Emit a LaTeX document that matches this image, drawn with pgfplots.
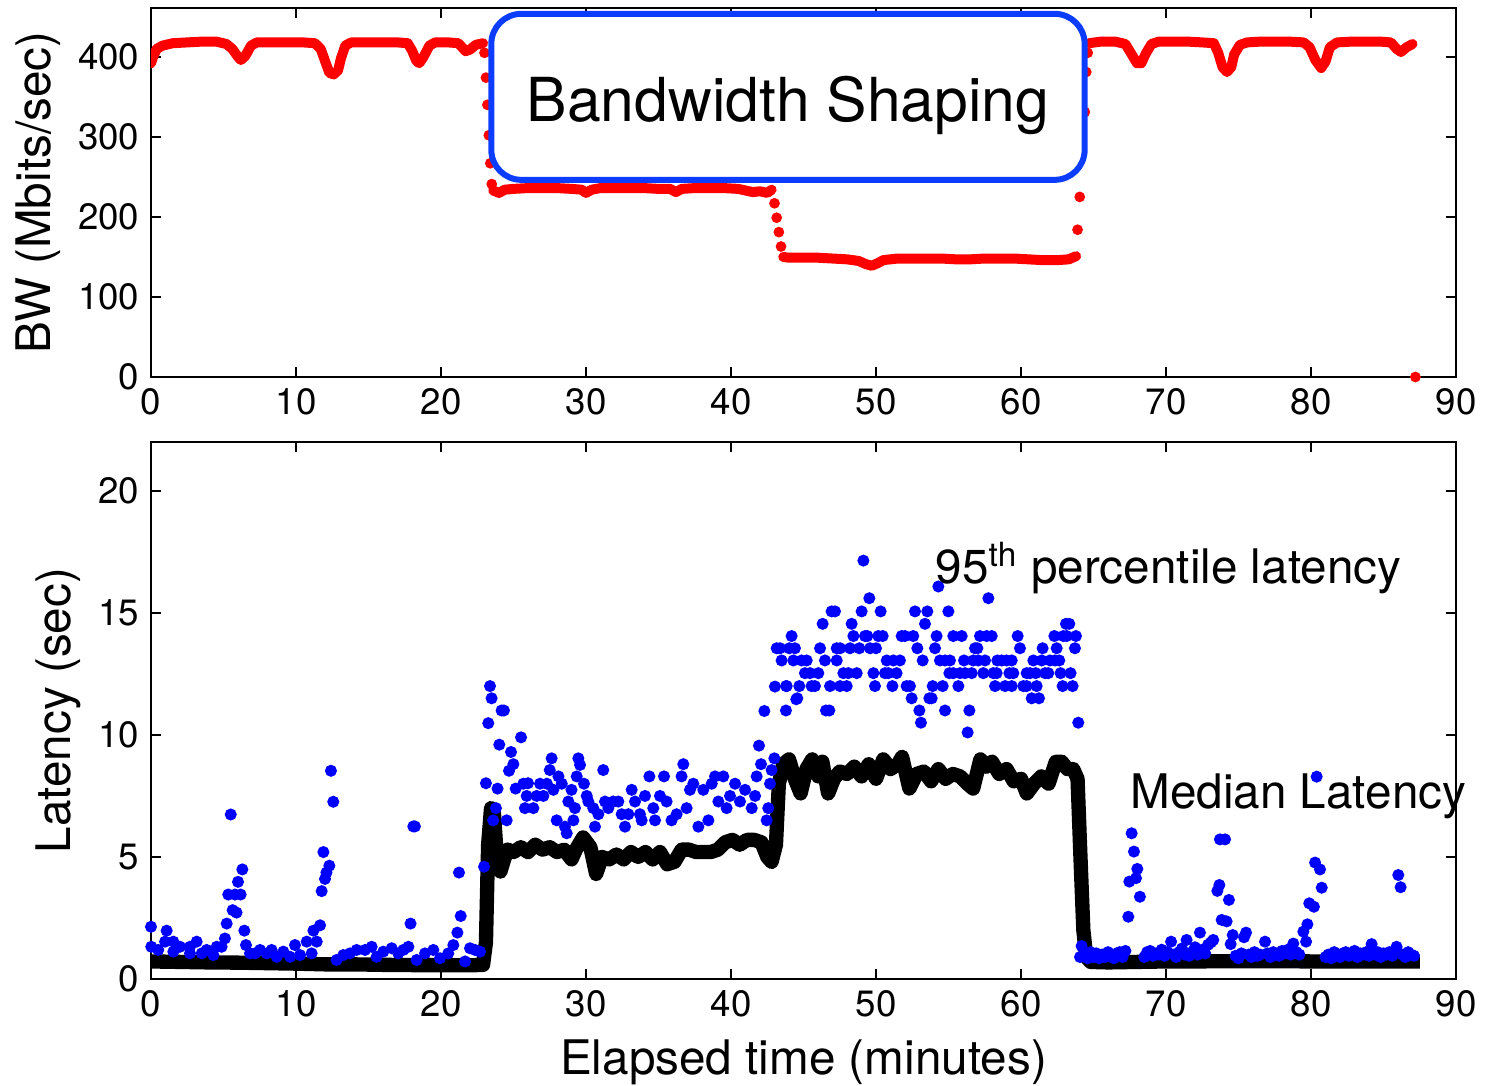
\documentclass[border=0pt]{standalone}
\usepackage{fontspec}
\setmainfont{TeX Gyre Heros}
\usepackage{pgfplots}
\pgfplotsset{compat=1.18}
\definecolor{boxblue}{RGB}{12,61,255}

\pgfplotsset{
  panel/.style={
    scale only axis, width=391.5pt,
    xmin=0, xmax=90, xtick={0,10,...,90},
    tick align=inside, major tick length=3pt,
    axis line style={line width=0.8pt},
    every tick/.style={line width=0.5pt, black},
    ticklabel style={font=\fontsize{11}{13}\selectfont},
    label style={font=\fontsize{14.3}{16}\selectfont},
    ylabel style={yshift=-1.6pt},
    /pgf/number format/assume math mode=true,
    clip mode=individual,
  },
}

\begin{document}
\begin{tikzpicture}
\useasboundingbox (-45.3pt,-212.7pt) rectangle (401.1pt,113.1pt);

% bandwidth
\begin{axis}[panel, at={(0,0)}, anchor=south west, height=110.7pt,
    ymin=0, ymax=461, ytick={0,100,...,400},
    ylabel={BW (Mbits/sec)}]
\addplot[red, line width=3pt, line join=round, line cap=round] coordinates {
(0,392)(0.15,400)(0.4,410)(0.8,414)(1.5,417)(2.5,418)(3.5,419)(4.5,419)(5.2,416)(5.6,410)
(6.0,400)(6.2,396)(6.5,401)(6.9,414)(7.3,418)(8.5,418)(9.5,418)(10.5,418)(11.3,417)(11.7,410)
(12.0,395)(12.3,380)(12.6,378)(12.9,383)(13.1,398)(13.4,414)(13.8,418)(15,418)(16,418)(17,418)
(17.7,417)(18.0,408)(18.3,395)(18.5,392)(18.8,400)(19.2,414)(19.6,418)(20.5,418)(21.2,417)
(21.7,407)(22.0,409)(22.4,415)(22.9,417)};
\addplot[red, line width=3pt, line join=round, line cap=round] coordinates {
(23.6,233)(24.0,230)(24.4,234)(25,235)(26,236)(27,236)(28,236)(29,235)(29.7,234)(30.0,230)
(30.4,234)(31,236)(32,236)(33,236)(34,236)(35,235)(35.8,235)(36.2,231)(36.6,235)(37.5,236)
(38.5,236)(39.5,236)(40.5,235)(41.0,233)(41.5,231)(42.0,232)(42.5,230)(42.8,234)};
\addplot[red, line width=3pt, line join=round, line cap=round] coordinates {
(43.6,150)(44,149)(45,149)(46,149)(47,148)(48,147)(48.8,145)(49.3,141)(49.7,139)(50.1,142)
(50.5,146)(51.5,148)(52.5,148)(53.5,148)(54.5,148)(55.5,147)(56.5,147)(57.5,148)(58.5,148)
(59.5,148)(60.5,147)(61.5,146)(62.5,146)(63.3,147)(63.8,151)};
\addplot[red, line width=3pt, line join=round, line cap=round] coordinates {
(64.7,417)(65.5,419)(66.5,419)(67.2,416)(67.6,404)(68.0,392)(68.3,392)(68.6,404)(69.0,416)
(69.5,419)(70.5,419)(71.5,419)(72.5,418)(73.3,417)(73.6,405)(73.9,387)(74.2,381)(74.5,387)
(74.7,403)(75.1,415)(75.6,418)(76.5,419)(77.5,419)(78.5,419)(79.5,418)(79.9,412)(80.3,396)
(80.7,386)(81.0,394)(81.3,412)(81.8,418)(82.8,419)(83.8,419)(84.8,419)(85.5,418)(85.9,410)
(86.2,406)(86.6,412)(87.0,416)};
\addplot[only marks, mark=*, mark size=1.4pt, red, mark options={draw=red, fill=red}] coordinates {
(23.0,405)(23.1,374)(23.2,340)(23.3,302)(23.4,267)(23.5,241)
(43.0,217)(43.15,199)(43.3,181)(43.45,163)
(63.9,184)(64.05,225)(64.4,331)(64.5,381)(64.6,405)
(87.2,0)};
\node[draw=boxblue, line width=1.8pt, rounded corners=9pt, fill=white,
      minimum width=178pt, minimum height=49.8pt, inner sep=0pt] at (axis cs:43.93,350) {};
\node[anchor=base, inner sep=0pt, font=\fontsize{18.2}{20}\selectfont]
  at (axis cs:43.93,319) {Bandwidth Shaping};
\end{axis}

% latency
\begin{axis}[panel, at={(0,-180.6pt)}, anchor=south west, height=161.1pt,
    ymin=0, ymax=22, ytick={0,5,...,20},
    xlabel={Elapsed time (minutes)}, ylabel={Latency (sec)}]
\addplot[black, line width=4.3pt, line join=round] coordinates {
(0,0.72)(2,0.7)(4,0.68)(6,0.67)(8,0.65)(10,0.63)(12,0.6)(14,0.6)(16,0.58)(18,0.57)(20,0.57)
(22,0.56)(22.9,0.58)(23.1,1.5)(23.25,5.5)(23.45,7.0)(23.65,6.8)(23.85,5.0)(24.1,4.4)(24.35,4.9)
(24.6,5.3)(25.0,5.2)(25.5,5.4)(26.0,5.2)(26.5,5.5)(27.0,5.3)(27.5,5.4)(28.0,5.2)(28.5,5.3)
(29.0,4.9)(29.3,5.3)(29.8,5.8)(30.3,5.4)(30.7,4.3)(31.1,5.0)(31.6,4.9)(32.1,5.1)(32.6,4.9)
(33.1,5.2)(33.6,5.0)(34.1,5.2)(34.6,4.9)(35.1,5.2)(35.6,4.7)(36.1,4.8)(36.6,5.3)(37.1,5.3)
(37.6,5.2)(38.1,5.2)(38.6,5.2)(39.1,5.3)(39.6,5.6)(40.1,5.7)(40.6,5.5)(41.1,5.7)(41.6,5.7)
(42.1,5.6)(42.5,5.0)(42.8,4.8)(43.1,5.5)(43.3,8.0)(43.6,8.8)(44.0,9.0)(44.4,8.2)(44.8,7.6)
(45.2,8.6)(45.6,9.0)(46.0,8.3)(46.3,8.9)(46.7,7.6)(47.1,8.2)(47.5,8.5)(48.0,8.4)(48.5,8.7)
(49.0,8.3)(49.5,8.8)(50.0,8.2)(50.5,9.0)(51.0,8.6)(51.5,8.8)(51.8,9.1)(52.3,7.8)(52.8,8.4)
(53.3,8.5)(53.8,8.1)(54.3,8.6)(54.8,8.2)(55.3,8.4)(55.8,8.3)(56.3,8.0)(56.7,7.8)(57.2,9.0)
(57.6,8.7)(58.0,8.9)(58.5,8.4)(59.0,8.6)(59.5,8.1)(60.0,8.2)(60.4,7.6)(60.9,8.0)(61.4,8.3)
(61.9,8.0)(62.4,8.9)(62.8,8.9)(63.2,8.6)(63.6,8.6)(63.9,8.2)(64.1,5.0)(64.3,2.0)(64.5,0.9)
(64.8,0.7)(66,0.68)(68,0.7)(70,0.72)(72,0.72)(74,0.73)(76,0.73)(78,0.73)(80,0.72)(82,0.72)
(84,0.72)(86,0.72)(87.5,0.72)};
\addplot[only marks, mark=*, mark size=1.6pt, mark options={draw=blue, fill=blue}] coordinates {
(0,2.14)(0.02,1.32)(0.5,1.19)(0.97,1.53)(1.08,1.98)(1.54,1.53)(1.54,1.12)(2.0,1.32)(2.69,1.05)
(2.69,1.32)(3.15,1.53)(3.5,1.05)(3.84,1.19)(4.3,0.98)(4.53,1.32)(4.87,1.32)(5.1,1.66)(5.22,2.27)
(5.33,3.46)(5.5,6.74)(5.63,2.82)(5.9,2.72)(5.79,3.46)(6.0,3.98)(6.18,3.46)(6.3,4.49)(6.44,1.98)
(6.55,1.39)(6.83,1.05)(7.17,1.05)(7.52,1.19)(7.98,1.05)(8.32,1.19)(8.67,0.91)(9.13,1.12)
(9.59,0.91)(9.93,1.39)(10.28,0.98)(10.74,1.53)(11.08,1.05)(11.2,1.98)(11.43,1.53)(11.66,2.2)
(11.77,3.6)(11.89,5.2)(12.0,4.1)(12.1,4.36)(12.3,4.64)(12.41,8.53)(12.57,7.26)(12.8,0.78)
(13.26,0.98)(13.72,1.05)(14.18,1.19)(14.76,1.19)(15.22,1.32)(15.56,0.91)(16.02,1.12)(16.6,1.26)
(17.05,1.05)(17.4,1.19)(17.75,1.32)(17.9,2.27)(18.09,6.25)(18.2,6.25)(18.32,0.78)(18.9,1.05)
(19.47,1.19)(19.93,0.85)(20.5,1.05)(20.85,1.39)(21.13,1.9)(21.24,4.36)(21.36,2.58)(21.66,0.72)
(22.0,1.26)(22.35,1.19)(22.69,1.12)(22.97,4.6)(23.1,8.02)(23.26,10.48)(23.38,12.0)(23.49,11.5)
(23.6,6.5)(23.79,7.0)(23.9,7.8)(24.02,9.6)(24.18,11.0)(24.34,11.0)(24.53,6.5)(24.69,8.53)
(24.83,9.3)(24.99,8.8)(25.15,7.8)(25.52,9.9)(25.68,8.0)(25.79,7.0)(25.91,7.5)
(26.0,8.02)(26.37,7.0)(26.6,7.5)(26.83,8.0)(27.06,7.5)(27.3,8.0)(27.5,8.56)(27.63,9.04)
(27.75,7.75)(27.98,6.5)(28.1,8.3)(28.33,8.0)(28.55,6.24)(28.67,5.97)(28.78,7.27)(29.0,7.75)
(29.13,6.5)(29.24,7.0)(29.36,8.3)(29.47,9.04)(29.59,8.77)(29.86,8.0)(30.05,7.5)(30.16,7.27)
(30.5,7.0)(30.62,6.24)(30.85,6.75)(31.19,8.56)(31.31,7.27)(31.54,7.0)(31.88,7.27)(32.23,7.27)
(32.46,6.75)(32.69,6.24)(32.92,6.75)(33.15,7.75)(33.38,7.27)(33.72,6.75)(33.84,6.5)(34.07,7.5)
(34.37,8.3)(34.64,7.0)(34.76,6.5)(35.1,7.5)(35.38,8.3)(35.56,7.27)(35.9,6.5)(36.25,6.75)
(36.59,8.3)(36.71,8.8)(36.94,7.0)(37.17,7.75)(37.4,8.0)(37.75,6.24)(38.09,7.75)(38.44,6.5)
(38.67,8.0)(38.9,8.3)(39.13,7.27)(39.47,8.3)(39.7,7.0)(39.93,7.5)(40.28,8.0)(40.62,7.27)
(40.97,7.75)(41.43,7.0)(41.66,7.5)(41.77,8.3)(41.93,9.56)(42.07,8.8)(42.3,10.98)(42.46,6.5)
(42.57,7.0)(42.69,8.0)(42.8,8.56)(42.99,9.04)(43.03,11.98)(43.8,12.0)(44.5,11.46)
(49.13,17.14)(54.3,16.08)(49.54,15.6)(57.75,15.6)
(46.94,15.06)(47.17,15.06)(49.01,15.06)(50.32,15.06)(52.69,15.06)(53.54,15.06)(54.99,15.06)
(46.32,14.55)(48.32,14.55)(53.38,14.55)(63.1,14.55)(63.33,14.55)
(44.18,14.05)(48.44,14.05)(49.24,14.05)(49.4,14.05)(50.16,14.05)(50.46,14.05)(51.77,14.05)
(52.0,14.05)(52.57,14.05)(54.18,14.05)(55.33,14.05)(55.91,14.05)(57.17,14.05)(57.63,14.05)
(57.98,14.05)(59.77,14.05)(62.3,14.05)(62.92,14.05)(63.15,14.05)(63.79,14.05)
(43.15,13.55)(43.38,13.55)(44.02,13.55)(44.41,13.55)(46.14,13.55)(47.29,13.55)(47.52,13.55)
(48.21,13.55)(48.85,13.55)(49.59,13.55)(50.0,13.55)(52.85,13.55)(54.07,13.55)(56.83,13.55)
(56.99,13.55)(59.93,13.55)(61.49,13.55)(62.46,13.55)(63.72,13.55)
(43.49,13.05)(44.3,13.05)(44.87,13.05)(45.22,13.05)(46.48,13.05)(47.29,13.05)(50.74,13.05)
(51.2,13.05)(51.65,13.05)(53.22,13.05)(54.41,13.05)(54.76,13.05)(55.1,13.05)(56.07,13.05)
(56.71,13.05)(57.06,13.05)(57.52,13.05)(58.37,13.05)(58.67,13.05)(59.01,13.05)(59.36,13.05)
(60.85,13.05)(61.43,13.05)(62.0,13.05)(62.34,13.05)(62.64,13.05)
(45.1,12.53)(45.45,12.53)(46.02,12.53)(47.75,12.53)(48.09,12.53)(48.67,12.53)(49.82,12.53)
(50.62,12.53)(50.85,12.53)(51.42,12.53)(55.06,12.53)(55.33,12.53)(55.79,12.53)(56.14,12.53)
(56.6,12.53)(57.4,12.53)(58.09,12.53)(58.32,12.53)(59.2,12.53)(59.47,12.53)(60.39,12.53)
(60.62,12.53)(61.01,12.53)(61.66,12.53)(61.88,12.53)(62.73,12.53)(63.42,12.53)
(43.84,12.0)(44.71,12.0)(45.56,12.0)(45.79,12.0)(46.83,12.0)(47.52,12.0)(47.98,12.0)
(49.93,12.0)(51.13,12.0)(52.11,12.0)(52.34,12.0)(53.91,12.0)(54.6,12.0)(55.68,12.0)(58.21,12.0)
(58.9,12.0)(59.36,12.0)(60.16,12.0)(60.39,12.0)(61.08,12.0)(62.87,12.0)(63.56,12.0)
(44.57,11.5)(52.46,11.5)(53.68,11.5)(53.84,11.5)(60.74,11.5)(61.24,11.5)
(43.79,11.0)(46.55,11.0)(46.78,11.0)(52.99,11.0)(54.76,11.0)(56.44,11.0)
(53.1,10.5)(63.95,10.5)(56.32,10.1)
(64.07,0.9)(64.18,1.35)(64.4,1.0)(64.6,0.85)(64.8,1.1)(65.0,0.9)(65.2,1.05)(65.4,0.85)(65.6,1.0)
(65.8,0.9)(66.0,1.1)(66.2,0.95)(66.4,0.85)(66.6,1.05)(66.8,1.1)(67.0,0.9)(67.2,1.15)(67.4,2.55)
(67.47,3.99)(67.63,5.97)(67.79,5.22)(67.93,4.13)(68.02,4.51)(68.2,3.37)(68.5,0.9)(68.7,1.1)
(68.9,1.15)(69.1,0.95)(69.3,1.05)(69.5,1.0)(69.7,1.2)(69.9,0.95)(70.1,1.1)(70.35,1.53)(70.5,1.0)
(70.7,0.9)(70.9,1.1)(71.1,1.25)(71.3,1.0)(71.42,1.6)(71.6,0.95)(71.8,1.1)(72.0,1.3)(72.2,1.0)
(72.34,1.9)(72.5,1.2)(72.7,1.05)(72.9,1.4)(73.1,1.5)(73.26,1.6)(73.54,3.61)(73.68,3.85)
(73.72,5.72)(73.84,2.42)(74.07,5.72)(74.18,2.36)(74.34,3.24)(74.46,1.43)(74.6,1.8)(74.8,0.95)
(75.0,0.85)(75.2,1.05)(75.38,1.71)(75.52,1.9)(75.7,1.0)(75.9,0.9)(76.1,1.1)(76.3,0.95)(76.5,1.0)
(76.83,1.53)(77.0,1.05)(77.2,0.9)(77.4,1.1)(77.6,1.0)(77.8,0.95)(78.0,1.15)(78.2,1.05)(78.4,1.2)
(78.6,1.0)(78.78,1.45)(79.0,1.1)(79.2,1.0)(79.47,1.94)(79.66,1.53)(79.75,2.24)(79.88,3.1)
(80.2,2.96)(80.28,4.77)(80.39,8.29)(80.62,4.49)(80.74,3.74)(81.0,0.9)(81.2,1.0)(81.4,0.85)
(81.6,1.1)(81.8,1.0)(82.0,0.9)(82.2,1.05)(82.4,1.1)(82.6,0.95)(82.8,1.0)(83.0,1.15)(83.2,0.9)
(83.4,1.05)(83.6,1.0)(83.8,1.1)(84.0,0.95)(84.18,1.43)(84.4,1.0)(84.6,1.1)(84.8,0.9)(85.0,1.05)
(85.2,1.0)(85.4,1.1)(85.6,0.95)(85.9,1.32)(86.02,4.26)(86.18,3.76)(86.3,1.0)(86.5,0.9)(86.7,1.1)
(86.9,1.0)(87.1,0.95)};
\node[anchor=base west, inner sep=0pt, font=\fontsize{14.3}{16}\selectfont]
  at (axis cs:54.07,16.2) {95\textsuperscript{th} percentile latency};
\node[anchor=base west, inner sep=0pt, font=\fontsize{14.3}{16}\selectfont]
  at (axis cs:67.5,7.0) {Median Latency};
\end{axis}
\end{tikzpicture}
\end{document}
